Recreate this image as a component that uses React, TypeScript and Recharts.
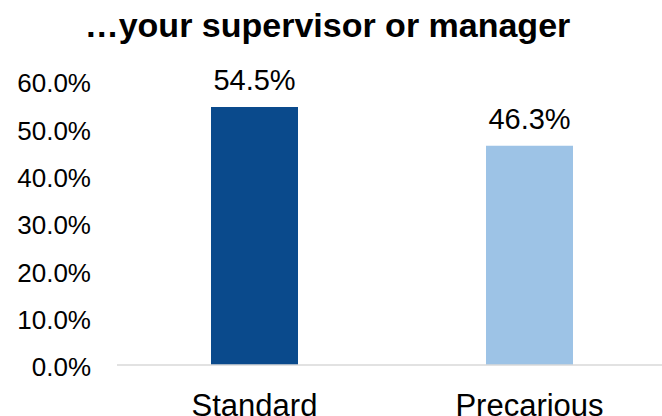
import { BarChart, Bar, XAxis, YAxis, Cell, LabelList } from "recharts";

const categories = ["Standard", "Precarious"];
const shares = [0.545, 0.463];
const barColors = ["#0A4A8C", "#9DC3E6"];
const yTicks = [0, 0.1, 0.2, 0.3, 0.4, 0.5, 0.6];

const data = categories.map((name, i) => ({ name, value: shares[i] }));

const pct = (v: number) => `${(v * 100).toFixed(1)}%`;
const font = "Arial, 'Liberation Sans', sans-serif";

export default function App() {
  return (
    <div
      style={{
        position: "absolute",
        left: 0,
        top: 0,
        width: 662,
        height: 416,
        overflow: "hidden",
        background: "#fff",
        fontFamily: font,
      }}
    >
      <div
        style={{
          position: "absolute",
          left: 0,
          top: 8,
          width: 655,
          textAlign: "center",
          fontSize: 34,
          lineHeight: "34px",
          fontWeight: "bold",
          color: "#000",
          zIndex: 1,
        }}
      >
        …your supervisor or manager
      </div>
      <BarChart
        width={670}
        height={416}
        data={data}
        margin={{ top: 81, right: 3, bottom: 0, left: 0 }}
      >
        <XAxis
          dataKey="name"
          axisLine={{ stroke: "#D9D9D9", strokeWidth: 1.5 }}
          tickLine={false}
          tickSize={0}
          tickMargin={29}
          height={51}
          tick={{ fontSize: 31, fill: "#000", fontFamily: font }}
        />
        <YAxis
          domain={[0, 0.6]}
          ticks={yTicks}
          tickFormatter={pct}
          axisLine={false}
          tickLine={false}
          tickSize={0}
          tickMargin={26}
          width={117}
          tick={{ fontSize: 26, fill: "#000", fontFamily: font, dy: 2 }}
        />
        <Bar dataKey="value" barSize={87} isAnimationActive={false}>
          {data.map((d, i) => (
            <Cell key={d.name} fill={barColors[i]} />
          ))}
          <LabelList
            dataKey="value"
            position="top"
            offset={17}
            formatter={(v: any) => pct(Number(v))}
            style={{ fontSize: 29, fill: "#000", fontFamily: font }}
          />
        </Bar>
      </BarChart>
    </div>
  );
}
